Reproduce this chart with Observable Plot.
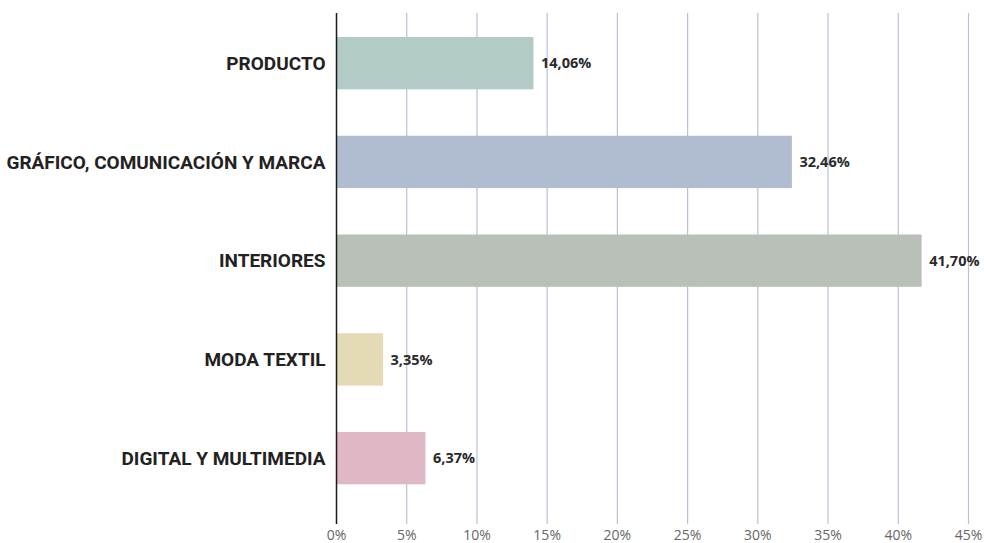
<!DOCTYPE html>
<html>
<head>
<meta charset="utf-8">
<script src="https://cdn.jsdelivr.net/npm/d3@7"></script>
<script src="https://cdn.jsdelivr.net/npm/@observablehq/plot@0.6"></script>
<style>
  html, body { margin: 0; padding: 0; background: #fff; }
</style>
</head>
<body>
<div id="chart"></div>
<script>
const categories = ["PRODUCTO", "GRÁFICO, COMUNICACIÓN Y MARCA", "INTERIORES", "MODA TEXTIL", "DIGITAL Y MULTIMEDIA"];
const values = [14.06, 32.46, 41.70, 3.35, 6.37];
const valueLabels = ["14,06%", "32,46%", "41,70%", "3,35%", "6,37%"];
const colors = ["#b3cbc6", "#b0bccf", "#b9c0b7", "#e4dab6", "#e0b7c5"];
const xTicks = [0, 5, 10, 15, 20, 25, 30, 35, 40, 45];

const data = categories.map((c, i) => ({cat: c, value: values[i], label: valueLabels[i], color: colors[i]}));

const chart = Plot.plot({
  width: 984,
  height: 543,
  marginTop: 13,
  marginBottom: 19,
  marginLeft: 336,
  marginRight: 16,
  style: {background: "#fff", fontFamily: "'Open Sans', sans-serif", overflow: "visible"},
  x: {domain: [0, 45], ticks: xTicks, label: null},
  y: {domain: categories, range: [13.3, 508], round: false, paddingInner: 0.47, paddingOuter: 0.24, label: null},
  marks: [
    Plot.ruleX(xTicks.filter(d => d > 0), {stroke: "#b7c3d5", strokeWidth: 1.2}),
    Plot.barX(data, {x: "value", y: "cat", fill: "color"}),
    Plot.ruleX([0], {stroke: "#1a1a1a", strokeWidth: 1.5}),
    Plot.text(data, {x: "value", y: "cat", text: "label", dx: 7, textAnchor: "start",
      fontSize: 14.5, fontWeight: "bold", fill: "#2a2a2a", fontFamily: "'Open Sans', sans-serif"}),
    Plot.axisX({ticks: xTicks, tickSize: 0, tickPadding: 5.5, tickFormat: d => d + "%",
      fontSize: 14, fill: "#666", fontFamily: "'Open Sans', sans-serif", label: null}),
    Plot.axisY({tickSize: 0, tickPadding: 11, fontSize: 19, fontWeight: "bold",
      fill: "#222", fontFamily: "Roboto, sans-serif", label: null})
  ]
});
document.getElementById("chart").appendChild(chart);
</script>
</body>
</html>
